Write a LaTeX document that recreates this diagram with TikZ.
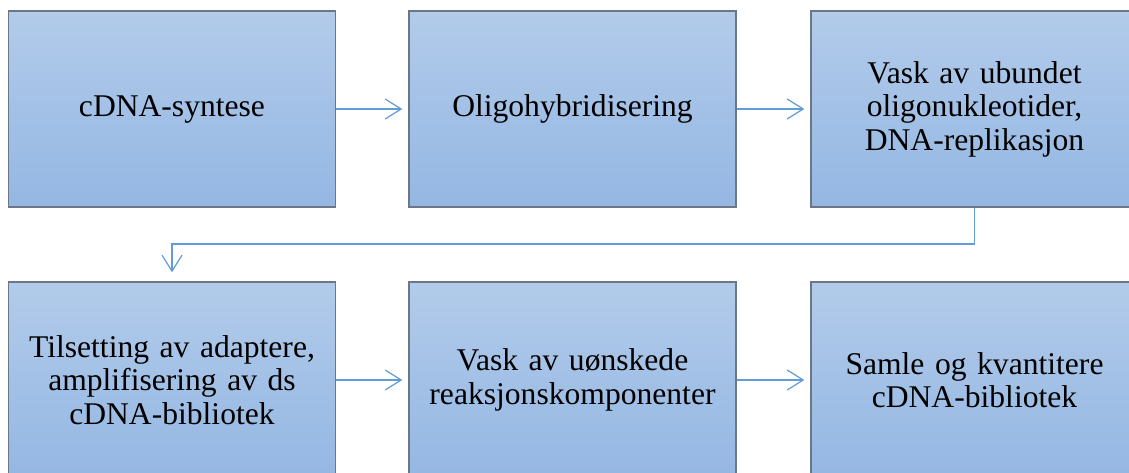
\documentclass[tikz,border=0pt]{standalone}
\usepackage{fontspec}
\setmainfont{Liberation Serif}
\usetikzlibrary{arrows.meta}
\definecolor{boxtop}{RGB}{178,203,234}
\definecolor{boxbottom}{RGB}{148,183,227}
\definecolor{boxedge}{RGB}{108,118,132}
\definecolor{flow}{RGB}{96,157,215}
\tikzset{
  stepbox/.style={draw=boxedge, line width=1.4pt, top color=boxtop, bottom color=boxbottom,
    minimum width=327pt, minimum height=196pt, inner sep=0pt, text width=310pt, align=center,
    font=\fontsize{31.6}{33.5}\selectfont},
  flowarrow/.style={draw=flow, line width=1.2pt, -{Straight Barb[length=16pt,width=20pt,line width=1.2pt]}}
}
\begin{document}
\begin{tikzpicture}[x=1pt,y=-1pt]
\useasboundingbox (0,0) rectangle (1129,473);
\clip (0,0) rectangle (1129,473);
\fill[white] (0,0) rectangle (1129,473);
% upper row
\node[stepbox] (b1) at (172,109) {cDNA-syntese};
\node[stepbox] (b2) at (572.5,109) {Oligohybridisering};
\node[stepbox] (b3) at (974.5,109) {Vask av ubundet\\oligonukleotider,\\DNA-replikasjon};
% lower row
\node[stepbox] (b4) at (172,380) {Tilsetting av adaptere,\\amplifisering av ds\\cDNA-bibliotek};
\node[stepbox] (b5) at (572.5,380) {Vask av uønskede\\reaksjonskomponenter};
\node[stepbox] (b6) at (974.5,380) {Samle og kvantitere\\cDNA-bibliotek};
% connectors
\draw[flowarrow] (b1.east) -- ([xshift=-6pt]b2.west);
\draw[flowarrow] (b2.east) -- ([xshift=-6pt]b3.west);
\draw[flowarrow] (b4.east) -- ([xshift=-6pt]b5.west);
\draw[flowarrow] (b5.east) -- ([xshift=-6pt]b6.west);
\coordinate (turnR) at (b3.south |- 0,244);
\coordinate (turnL) at (b4.north |- 0,244);
\draw[flowarrow] (b3.south) -- (turnR) -- (turnL) -- ([yshift=9pt]b4.north);
\end{tikzpicture}
\end{document}
